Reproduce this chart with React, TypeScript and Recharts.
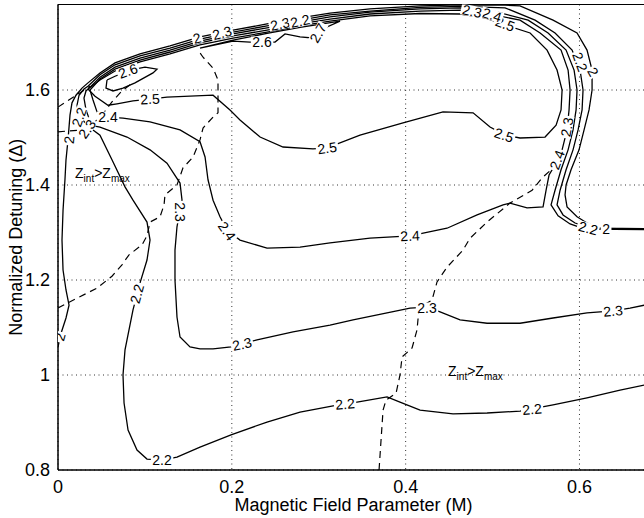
import React from 'react';
import {
  ComposedChart,
  XAxis,
  YAxis,
  CartesianGrid,
  Scatter,
  ReferenceArea,
  Label,
} from 'recharts';

const FONT = "'Liberation Sans', Arial, Helvetica, sans-serif";

const xTicks = [0, 0.2, 0.4, 0.6];
const yTicks = [0.8, 1, 1.2, 1.4, 1.6];
const xDomain = [0, 0.68];
const yDomain = [0.8, 1.78];

// Contour level 2
const contour2 = [
  [0, 1.059], [0.0035, 1.088], [0.0092, 1.12], [0.0127, 1.147], [0.0092, 1.179], [0.0058, 1.221],
  [0.0046, 1.284], [0.0058, 1.347], [0.008, 1.411], [0.0092, 1.453], [0.0115, 1.495], [0.0138, 1.547],
  [0.0161, 1.573], [0.0207, 1.589], [0.0276, 1.604], [0.0345, 1.615], [0.0483, 1.636], [0.0656, 1.657],
  [0.0944, 1.676], [0.1289, 1.693], [0.1634, 1.712], [0.2014, 1.726], [0.2405, 1.739], [0.2785, 1.752],
  [0.313, 1.762], [0.359, 1.771], [0.4166, 1.777], [0.4626, 1.779], [0.5086, 1.779], [0.5316, 1.777],
  [0.5696, 1.747], [0.5972, 1.72], [0.6087, 1.684], [0.6145, 1.642], [0.6145, 1.6], [0.611, 1.558],
  [0.6053, 1.516], [0.5995, 1.474], [0.5903, 1.432], [0.5846, 1.4], [0.5834, 1.379], [0.5857, 1.354],
  [0.5972, 1.333], [0.6087, 1.32], [0.6237, 1.309], [0.68, 1.308],
];

// Contour level 2.2
const contour22 = [
  [0.68, 0.981], [0.6467, 0.968], [0.6087, 0.952], [0.5696, 0.937], [0.5316, 0.924], [0.4937, 0.92],
  [0.4545, 0.918], [0.4166, 0.926], [0.3935, 0.943], [0.3786, 0.954], [0.3441, 0.943], [0.3165, 0.935],
  [0.2785, 0.922], [0.2405, 0.901], [0.1991, 0.874], [0.1634, 0.848], [0.1369, 0.827], [0.1197, 0.821],
  [0.1024, 0.823], [0.0909, 0.842], [0.0806, 0.884], [0.076, 0.941], [0.0748, 1.0], [0.0771, 1.053],
  [0.0794, 1.074], [0.0863, 1.137], [0.0944, 1.194], [0.1024, 1.242], [0.1059, 1.284], [0.1024, 1.322],
  [0.0863, 1.368], [0.0771, 1.396], [0.0621, 1.453], [0.0483, 1.505], [0.0403, 1.516], [0.0311, 1.531],
  [0.0242, 1.547], [0.0219, 1.568], [0.0242, 1.589], [0.0299, 1.602], [0.0345, 1.608], [0.0483, 1.632],
  [0.0656, 1.653], [0.0944, 1.672], [0.1289, 1.688], [0.1634, 1.707], [0.2014, 1.722], [0.2405, 1.735],
  [0.2785, 1.747], [0.313, 1.758], [0.359, 1.766], [0.4166, 1.774], [0.4626, 1.776], [0.5144, 1.773],
  [0.5489, 1.747], [0.5719, 1.72], [0.5915, 1.684], [0.6007, 1.642], [0.6041, 1.6], [0.603, 1.558],
  [0.5984, 1.516], [0.5926, 1.474], [0.5846, 1.432], [0.5777, 1.389], [0.5742, 1.358], [0.5811, 1.337],
  [0.5949, 1.32], [0.6122, 1.309], [0.68, 1.307],
];

// Contour level 2.3
const contour23 = [
  [0.68, 1.149], [0.6582, 1.141], [0.6387, 1.135], [0.6087, 1.131], [0.5696, 1.12], [0.5316, 1.109],
  [0.4937, 1.109], [0.4626, 1.116], [0.4396, 1.133], [0.4246, 1.143], [0.4051, 1.141], [0.3786, 1.131],
  [0.3395, 1.116], [0.313, 1.105], [0.2704, 1.091], [0.229, 1.074], [0.1991, 1.059], [0.1784, 1.055],
  [0.1634, 1.055], [0.1519, 1.059], [0.1404, 1.08], [0.1369, 1.122], [0.1346, 1.2], [0.1346, 1.263],
  [0.1369, 1.312], [0.1404, 1.347], [0.1427, 1.368], [0.1404, 1.404], [0.1254, 1.446], [0.1059, 1.474],
  [0.0794, 1.501], [0.0483, 1.522], [0.0426, 1.524], [0.0368, 1.535], [0.0322, 1.558], [0.0299, 1.583],
  [0.0322, 1.598], [0.0357, 1.604], [0.0483, 1.627], [0.0656, 1.648], [0.0944, 1.667], [0.1289, 1.684],
  [0.1634, 1.703], [0.2014, 1.718], [0.2405, 1.731], [0.2785, 1.743], [0.313, 1.754], [0.359, 1.764],
  [0.4166, 1.771], [0.4626, 1.773], [0.4971, 1.768], [0.5409, 1.747], [0.5639, 1.72], [0.5846, 1.684],
  [0.5938, 1.642], [0.5972, 1.6], [0.5961, 1.558], [0.5926, 1.516], [0.5869, 1.474], [0.5788, 1.432],
  [0.5719, 1.389], [0.5673, 1.358], [0.5754, 1.335], [0.5892, 1.318], [0.6064, 1.307], [0.68, 1.306],
];

// Contour level 2.4 (closed)
const contour24 = [
  [0.0368, 1.6], [0.0483, 1.623], [0.0656, 1.644], [0.0944, 1.663], [0.1289, 1.68], [0.1634, 1.699],
  [0.2014, 1.714], [0.2405, 1.726], [0.2785, 1.739], [0.313, 1.749], [0.359, 1.76], [0.4166, 1.766],
  [0.4626, 1.768], [0.4856, 1.764], [0.5316, 1.747], [0.5547, 1.72], [0.5788, 1.684], [0.5869, 1.642],
  [0.5892, 1.6], [0.588, 1.558], [0.5857, 1.516], [0.58, 1.474], [0.5731, 1.446], [0.565, 1.421],
  [0.5616, 1.389], [0.5581, 1.354], [0.5397, 1.352], [0.5201, 1.362], [0.5121, 1.358], [0.4822, 1.337],
  [0.4476, 1.309], [0.4051, 1.293], [0.359, 1.288], [0.313, 1.278], [0.2785, 1.269], [0.2405, 1.267],
  [0.2094, 1.284], [0.1945, 1.305], [0.1864, 1.333], [0.1784, 1.368], [0.1726, 1.411], [0.1692, 1.459],
  [0.1634, 1.491], [0.1404, 1.516], [0.1059, 1.533], [0.0748, 1.541], [0.0575, 1.543], [0.0449, 1.554],
  [0.0403, 1.579], [0.0368, 1.6],
];

// Contour level 2.5 (closed)
const contour25 = [
  [0.0345, 1.602], [0.0426, 1.587], [0.0575, 1.568], [0.0679, 1.571], [0.0863, 1.577], [0.1059, 1.581],
  [0.1254, 1.585], [0.1784, 1.589], [0.1979, 1.558], [0.2094, 1.537], [0.2325, 1.501], [0.2589, 1.48],
  [0.2934, 1.476], [0.3096, 1.478], [0.3475, 1.505], [0.397, 1.531], [0.443, 1.554], [0.4776, 1.552],
  [0.4971, 1.522], [0.5144, 1.505], [0.5316, 1.499], [0.5604, 1.501], [0.5731, 1.526], [0.5788, 1.558],
  [0.58, 1.6], [0.5742, 1.642], [0.5627, 1.684], [0.5432, 1.72], [0.5144, 1.737], [0.4914, 1.752],
  [0.4626, 1.76], [0.4166, 1.761], [0.359, 1.756], [0.313, 1.745], [0.2785, 1.735], [0.2405, 1.722],
  [0.2014, 1.709], [0.1634, 1.695], [0.1289, 1.676], [0.0944, 1.659], [0.0656, 1.64], [0.0483, 1.621],
  [0.0345, 1.602],
];

// Contour level 2.6 (small closed pieces)
const contour26a = [
  [0.0564, 1.621], [0.0552, 1.604], [0.0633, 1.598], [0.0748, 1.604], [0.0886, 1.615], [0.1093, 1.636],
  [0.1139, 1.644], [0.1001, 1.648], [0.0829, 1.642], [0.0656, 1.629], [0.0564, 1.621],
];
const contour26b = [
  [0.1634, 1.688], [0.2014, 1.703], [0.2209, 1.701], [0.2497, 1.701], [0.2612, 1.718], [0.2785, 1.712],
  [0.2957, 1.709], [0.3038, 1.728], [0.3245, 1.745], [0.2785, 1.732], [0.2405, 1.719], [0.2014, 1.705],
  [0.1634, 1.688],
];

// Z_int = Z_max boundaries (dashed)
const boundaryLeft = [
  [0, 1.141], [0.0115, 1.152], [0.0449, 1.183], [0.0621, 1.208], [0.0736, 1.232], [0.0817, 1.253],
  [0.0967, 1.274], [0.1024, 1.293], [0.1059, 1.322], [0.1174, 1.333], [0.122, 1.358], [0.1231, 1.379],
  [0.1369, 1.4], [0.1438, 1.436], [0.1554, 1.459], [0.1634, 1.495], [0.1669, 1.52], [0.1784, 1.543],
  [0.1841, 1.552], [0.1841, 1.621], [0.1784, 1.646], [0.1669, 1.669], [0.1611, 1.684],
];
const boundaryRight = [
  [0.3694, 0.8], [0.3717, 0.863], [0.374, 0.926], [0.3774, 0.947], [0.389, 0.962], [0.3935, 1.0],
  [0.3959, 1.038], [0.4074, 1.057], [0.4131, 1.095], [0.4154, 1.141], [0.4304, 1.158], [0.4361, 1.196],
  [0.4476, 1.227], [0.466, 1.263], [0.4741, 1.288], [0.4937, 1.322], [0.5201, 1.362], [0.5455, 1.389],
  [0.557, 1.415], [0.5685, 1.434],
];
const boundaryTopA = [[0, 1.564], [0.0368, 1.608]];
const boundaryTopB = [
  [0, 1.512], [0.0288, 1.516], [0.0483, 1.541], [0.0621, 1.575], [0.0736, 1.598], [0.0829, 1.611],
];

// Contour labels: text, x, y, angle
const contourLabels = [
  { text: '2', x: 0.0127, y: 1.495, angle: -85 },
  { text: '2', x: 0.0023, y: 1.08, angle: -75 },
  { text: '2.2', x: 0.0242, y: 1.543, angle: -70 },
  { text: '2.3', x: 0.0334, y: 1.518, angle: -55 },
  { text: '2.4', x: 0.0575, y: 1.543, angle: 0 },
  { text: '2.5', x: 0.1059, y: 1.581, angle: -3 },
  { text: '2.6', x: 0.0806, y: 1.64, angle: -20 },
  { text: '2.2', x: 0.0909, y: 1.171, angle: -75 },
  { text: '2.3', x: 0.1404, y: 1.343, angle: 90 },
  { text: '2.4', x: 0.1945, y: 1.303, angle: 55 },
  { text: '2.2', x: 0.1197, y: 0.821, angle: 0 },
  { text: '2.3', x: 0.2117, y: 1.065, angle: -12 },
  { text: '2.5', x: 0.3096, y: 1.478, angle: -8 },
  { text: '2.4', x: 0.4051, y: 1.293, angle: -3 },
  { text: '2.3', x: 0.4246, y: 1.141, angle: 0 },
  { text: '2.2', x: 0.3303, y: 0.939, angle: -5 },
  { text: '2.2', x: 0.5455, y: 0.928, angle: -5 },
  { text: '2.3', x: 0.6387, y: 1.135, angle: -5 },
  { text: '2.5', x: 0.5132, y: 1.505, angle: 18 },
  { text: '2.5', x: 0.5144, y: 1.739, angle: 20 },
  { text: '2.4', x: 0.4994, y: 1.758, angle: 18 },
  { text: '2.3', x: 0.4764, y: 1.766, angle: 12 },
  { text: '2.2', x: 0.6007, y: 1.659, angle: 70 },
  { text: '2', x: 0.6156, y: 1.638, angle: 60 },
  { text: '2.3', x: 0.5857, y: 1.522, angle: -80 },
  { text: '2.4', x: 0.5742, y: 1.453, angle: -70 },
  { text: '2.2', x: 0.6099, y: 1.309, angle: 15 },
  { text: '2', x: 0.6306, y: 1.307, angle: 0 },
  { text: '2.6', x: 0.2348, y: 1.701, angle: 0 },
  { text: '2.7', x: 0.2992, y: 1.72, angle: -60 },
  { text: '2.3', x: 0.2555, y: 1.739, angle: -12 },
  { text: '2.2', x: 0.2785, y: 1.745, angle: -12 },
  { text: '2', x: 0.16, y: 1.709, angle: -15 },
  { text: '2.3', x: 0.1887, y: 1.72, angle: -15 },
];

// Region annotations
const regionNotes = [
  { x: 0.0196, y: 1.4147 },
  { x: 0.4488, y: 0.998 },
];

const toPts = (a: number[][]) => a.map(([x, y]) => ({ x, y }));

const NoDot = () => <g />;

function ContourLabel(props: any) {
  const { cx, cy } = props;
  const p = props.payload ?? props;
  if (cx == null || cy == null) return <g />;
  const fs = 14;
  const w =
    String(p.text)
      .split('')
      .reduce((s: number, c: string) => s + (c === '.' ? 0.278 : 0.556), 0) * fs;
  return (
    <g transform={`translate(${cx},${cy}) rotate(${p.angle})`}>
      <rect x={-w / 2 - 1.5} y={-5.5} width={w + 3} height={11} fill="#fff" />
      <text
        x={0}
        y={0}
        dy={5}
        textAnchor="middle"
        fontSize={fs}
        fontFamily={FONT}
        fill="#000"
      >
        {p.text}
      </text>
    </g>
  );
}

function RegionNote(props: any) {
  const { cx, cy } = props;
  if (cx == null || cy == null) return <g />;
  return (
    <text x={cx} y={cy} fontFamily={FONT} fontSize={14} fill="#000">
      Z
      <tspan fontSize={10} dy={4}>
        int
      </tspan>
      <tspan dy={-4}>&gt;Z</tspan>
      <tspan fontSize={10} dy={4}>
        max
      </tspan>
    </text>
  );
}

const solid = { stroke: '#000', strokeWidth: 1.3 };
const dashed = { stroke: '#000', strokeWidth: 1.2, strokeDasharray: '7 5' };

const solidSeries = [contour2, contour22, contour23, contour24, contour25, contour26a, contour26b];
const dashedSeries = [boundaryLeft, boundaryRight, boundaryTopA, boundaryTopB];

export default function App() {
  return (
    <div
      style={{
        position: 'absolute',
        left: 0,
        top: 0,
        width: 644,
        height: 518,
        overflow: 'hidden',
        background: '#fff',
      }}
    >
      <ComposedChart
        width={660}
        height={518}
        margin={{ top: 4.5, right: 11, bottom: 0, left: 0 }}
      >
        <CartesianGrid stroke="#333" strokeDasharray="1 3.5" />
        <XAxis
          dataKey="x"
          type="number"
          domain={xDomain}
          ticks={xTicks}
          allowDataOverflow
          height={48}
          tickLine={false}
          tickSize={8}
          tick={{ fontSize: 18, fill: '#000', fontFamily: FONT }}
          axisLine={{ stroke: '#000' }}
        >
          <Label
            value="Magnetic Field Parameter (M)"
            position="insideBottom"
            offset={7}
            fontSize={18}
            fontFamily={FONT}
            fill="#000"
          />
        </XAxis>
        <YAxis
          dataKey="y"
          type="number"
          domain={yDomain}
          ticks={yTicks}
          allowDataOverflow
          width={58}
          tickLine={false}
          tickSize={6}
          tick={{ fontSize: 18, fill: '#000', fontFamily: FONT }}
          axisLine={{ stroke: '#000' }}
        >
          <Label
            value="Normalized Detuning (Δ)"
            position="insideLeft"
            angle={-90}
            offset={16}
            fontSize={18}
            fontFamily={FONT}
            fill="#000"
            style={{ textAnchor: 'middle' }}
          />
        </YAxis>
        <ReferenceArea
          x1={0}
          x2={0.68}
          y1={0.8}
          y2={1.78}
          fill="none"
          fillOpacity={0}
          stroke="#000"
          strokeWidth={1}
          ifOverflow="visible"
        />
        {solidSeries.map((s, i) => (
          <Scatter
            key={`s${i}`}
            data={toPts(s)}
            line={solid}
            lineType="joint"
            shape={NoDot}
            fill="none"
            isAnimationActive={false}
            legendType="none"
          />
        ))}
        {dashedSeries.map((s, i) => (
          <Scatter
            key={`d${i}`}
            data={toPts(s)}
            line={dashed}
            lineType="joint"
            shape={NoDot}
            fill="none"
            isAnimationActive={false}
            legendType="none"
          />
        ))}
        <Scatter
          data={contourLabels}
          shape={ContourLabel}
          isAnimationActive={false}
          legendType="none"
        />
        <Scatter
          data={regionNotes}
          shape={RegionNote}
          isAnimationActive={false}
          legendType="none"
        />
      </ComposedChart>
    </div>
  );
}
